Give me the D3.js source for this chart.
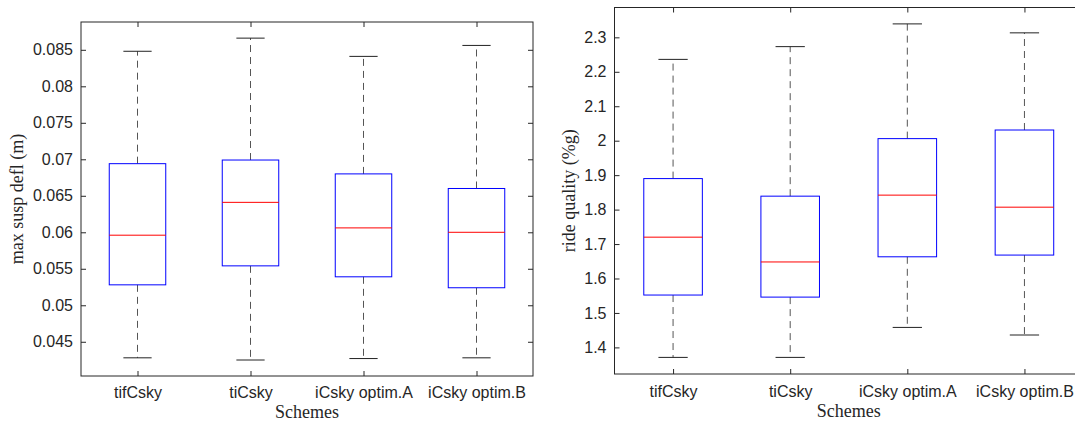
<!DOCTYPE html>
<html>
<head>
<meta charset="utf-8">
<script src="https://cdn.jsdelivr.net/npm/d3@7"></script>
<style>
  body { margin: 0; background: #fff; }
  svg { display: block; }
  .tick text { font-family: "Liberation Sans", Arial, sans-serif; font-size: 16px; fill: #262626; }
  .tick line { stroke: #262626; }
  .label { font-family: "Liberation Serif", serif; font-size: 18px; fill: #262626; }
</style>
</head>
<body>
<script>
//panel size
var w = 1075, h = 423;

//box plot categories
var categories = ["tifCsky", "tiCsky", "iCsky optim.A", "iCsky optim.B"];

//max suspension deflection (m) - whisker ends, quartiles, median
var deflLow  = [0.0428, 0.0425, 0.0427, 0.0428];
var deflQ1   = [0.0528, 0.0554, 0.0539, 0.0524];
var deflMed  = [0.0596, 0.0641, 0.0606, 0.0600];
var deflQ3   = [0.0694, 0.0699, 0.0680, 0.0660];
var deflHigh = [0.0848, 0.0866, 0.0841, 0.0856];
var deflTicks = [0.045, 0.05, 0.055, 0.06, 0.065, 0.07, 0.075, 0.08, 0.085];

//ride quality (%g)
var rideLow  = [1.371, 1.371, 1.458, 1.436];
var rideQ1   = [1.552, 1.546, 1.663, 1.668];
var rideMed  = [1.720, 1.648, 1.842, 1.807];
var rideQ3   = [1.890, 1.839, 2.006, 2.031];
var rideHigh = [2.236, 2.273, 2.339, 2.313];
var rideTicks = [1.4, 1.5, 1.6, 1.7, 1.8, 1.9, 2.0, 2.1, 2.2, 2.3];

window.onload = function(){

    var svg = d3.select("body")
        .append("svg")
        .attr("width", w)
        .attr("height", h)
        .attr("class", "container");

    //left panel
    drawPanel(svg, {
        left: 81, right: 533, top: 22, bottom: 376,
        domain: [0.04031, 0.08881],
        ticks: deflTicks, digits: 3,
        low: deflLow, q1: deflQ1, med: deflMed, q3: deflQ3, high: deflHigh,
        ylabel: "max susp defl (m)", ylabelX: 23, xlabelY: 418, pad: 11
    });

    //right panel (its right edge runs past the picture)
    drawPanel(svg, {
        left: 614.5, right: 1083, top: 7.5, bottom: 374,
        domain: [1.3228, 2.3866],
        ticks: rideTicks, digits: 1,
        low: rideLow, q1: rideQ1, med: rideMed, q3: rideQ3, high: rideHigh,
        ylabel: "ride quality (%g)", ylabelX: 575, xlabelY: 417, pad: 12
    });
};

function drawPanel(svg, p){
    var idx = d3.range(categories.length);

    var x = d3.scaleLinear()
        .domain([0.5, categories.length + 0.5])
        .range([p.left, p.right]);

    var y = d3.scaleLinear()
        .domain(p.domain)
        .range([p.bottom, p.top]);

    var unit = x(1) - x(0);
    var g = svg.append("g").attr("class", "panel");

    //y axes, ticks pointing inward on both sides
    var fmt = function(d){ return String(+d.toFixed(p.digits)); };
    g.append("g")
        .attr("transform", "translate(" + p.left + ",0)")
        .call(d3.axisLeft(y).tickValues(p.ticks).tickFormat(fmt).tickSize(-5).tickPadding(8))
        .call(function(a){ a.select(".domain").remove(); });
    g.append("g")
        .attr("transform", "translate(" + p.right + ",0)")
        .call(d3.axisRight(y).tickValues(p.ticks).tickFormat("").tickSize(-5))
        .call(function(a){ a.select(".domain").remove(); });

    //x axes
    g.append("g")
        .attr("transform", "translate(0," + p.bottom + ")")
        .call(d3.axisBottom(x).tickValues(idx.map(function(i){ return i + 1; }))
            .tickFormat(function(d){ return categories[d - 1]; })
            .tickSize(-5).tickPadding(p.pad))
        .call(function(a){ a.select(".domain").remove(); });
    g.append("g")
        .attr("transform", "translate(0," + p.top + ")")
        .call(d3.axisTop(x).tickValues(idx.map(function(i){ return i + 1; })).tickFormat("").tickSize(-5))
        .call(function(a){ a.select(".domain").remove(); });

    //frame
    g.append("rect")
        .attr("x", p.left).attr("y", p.top)
        .attr("width", p.right - p.left).attr("height", p.bottom - p.top)
        .style("fill", "none").style("stroke", "#262626").style("stroke-width", 1);

    var boxes = g.selectAll(".box")
        .data(idx)
        .enter()
        .append("g")
        .attr("class", "box");

    //dashed whiskers
    boxes.append("line")
        .attr("x1", function(i){ return x(i + 1); }).attr("x2", function(i){ return x(i + 1); })
        .attr("y1", function(i){ return y(p.q3[i]); }).attr("y2", function(i){ return y(p.high[i]); })
        .style("stroke", "#555").style("stroke-dasharray", "7,5");
    boxes.append("line")
        .attr("x1", function(i){ return x(i + 1); }).attr("x2", function(i){ return x(i + 1); })
        .attr("y1", function(i){ return y(p.q1[i]); }).attr("y2", function(i){ return y(p.low[i]); })
        .style("stroke", "#555").style("stroke-dasharray", "7,5");

    //whisker caps
    [p.high, p.low].forEach(function(arr){
        boxes.append("line")
            .attr("x1", function(i){ return x(i + 1) - unit * 0.125; })
            .attr("x2", function(i){ return x(i + 1) + unit * 0.125; })
            .attr("y1", function(i){ return y(arr[i]); })
            .attr("y2", function(i){ return y(arr[i]); })
            .style("stroke", "#222");
    });

    //boxes
    boxes.append("rect")
        .attr("x", function(i){ return x(i + 1) - unit * 0.25; })
        .attr("width", unit * 0.5)
        .attr("y", function(i){ return y(p.q3[i]); })
        .attr("height", function(i){ return y(p.q1[i]) - y(p.q3[i]); })
        .style("fill", "none").style("stroke", "#0000ff");

    //medians
    boxes.append("line")
        .attr("x1", function(i){ return x(i + 1) - unit * 0.25; })
        .attr("x2", function(i){ return x(i + 1) + unit * 0.25; })
        .attr("y1", function(i){ return y(p.med[i]); })
        .attr("y2", function(i){ return y(p.med[i]); })
        .style("stroke", "#ff0000");

    //axis labels
    g.append("text")
        .attr("class", "label")
        .attr("text-anchor", "middle")
        .attr("transform", "translate(" + p.ylabelX + "," + ((p.top + p.bottom) / 2) + ") rotate(-90)")
        .text(p.ylabel);

    g.append("text")
        .attr("class", "label")
        .attr("text-anchor", "middle")
        .attr("x", (p.left + p.right) / 2)
        .attr("y", p.xlabelY)
        .text("Schemes");
}
</script>
</body>
</html>
